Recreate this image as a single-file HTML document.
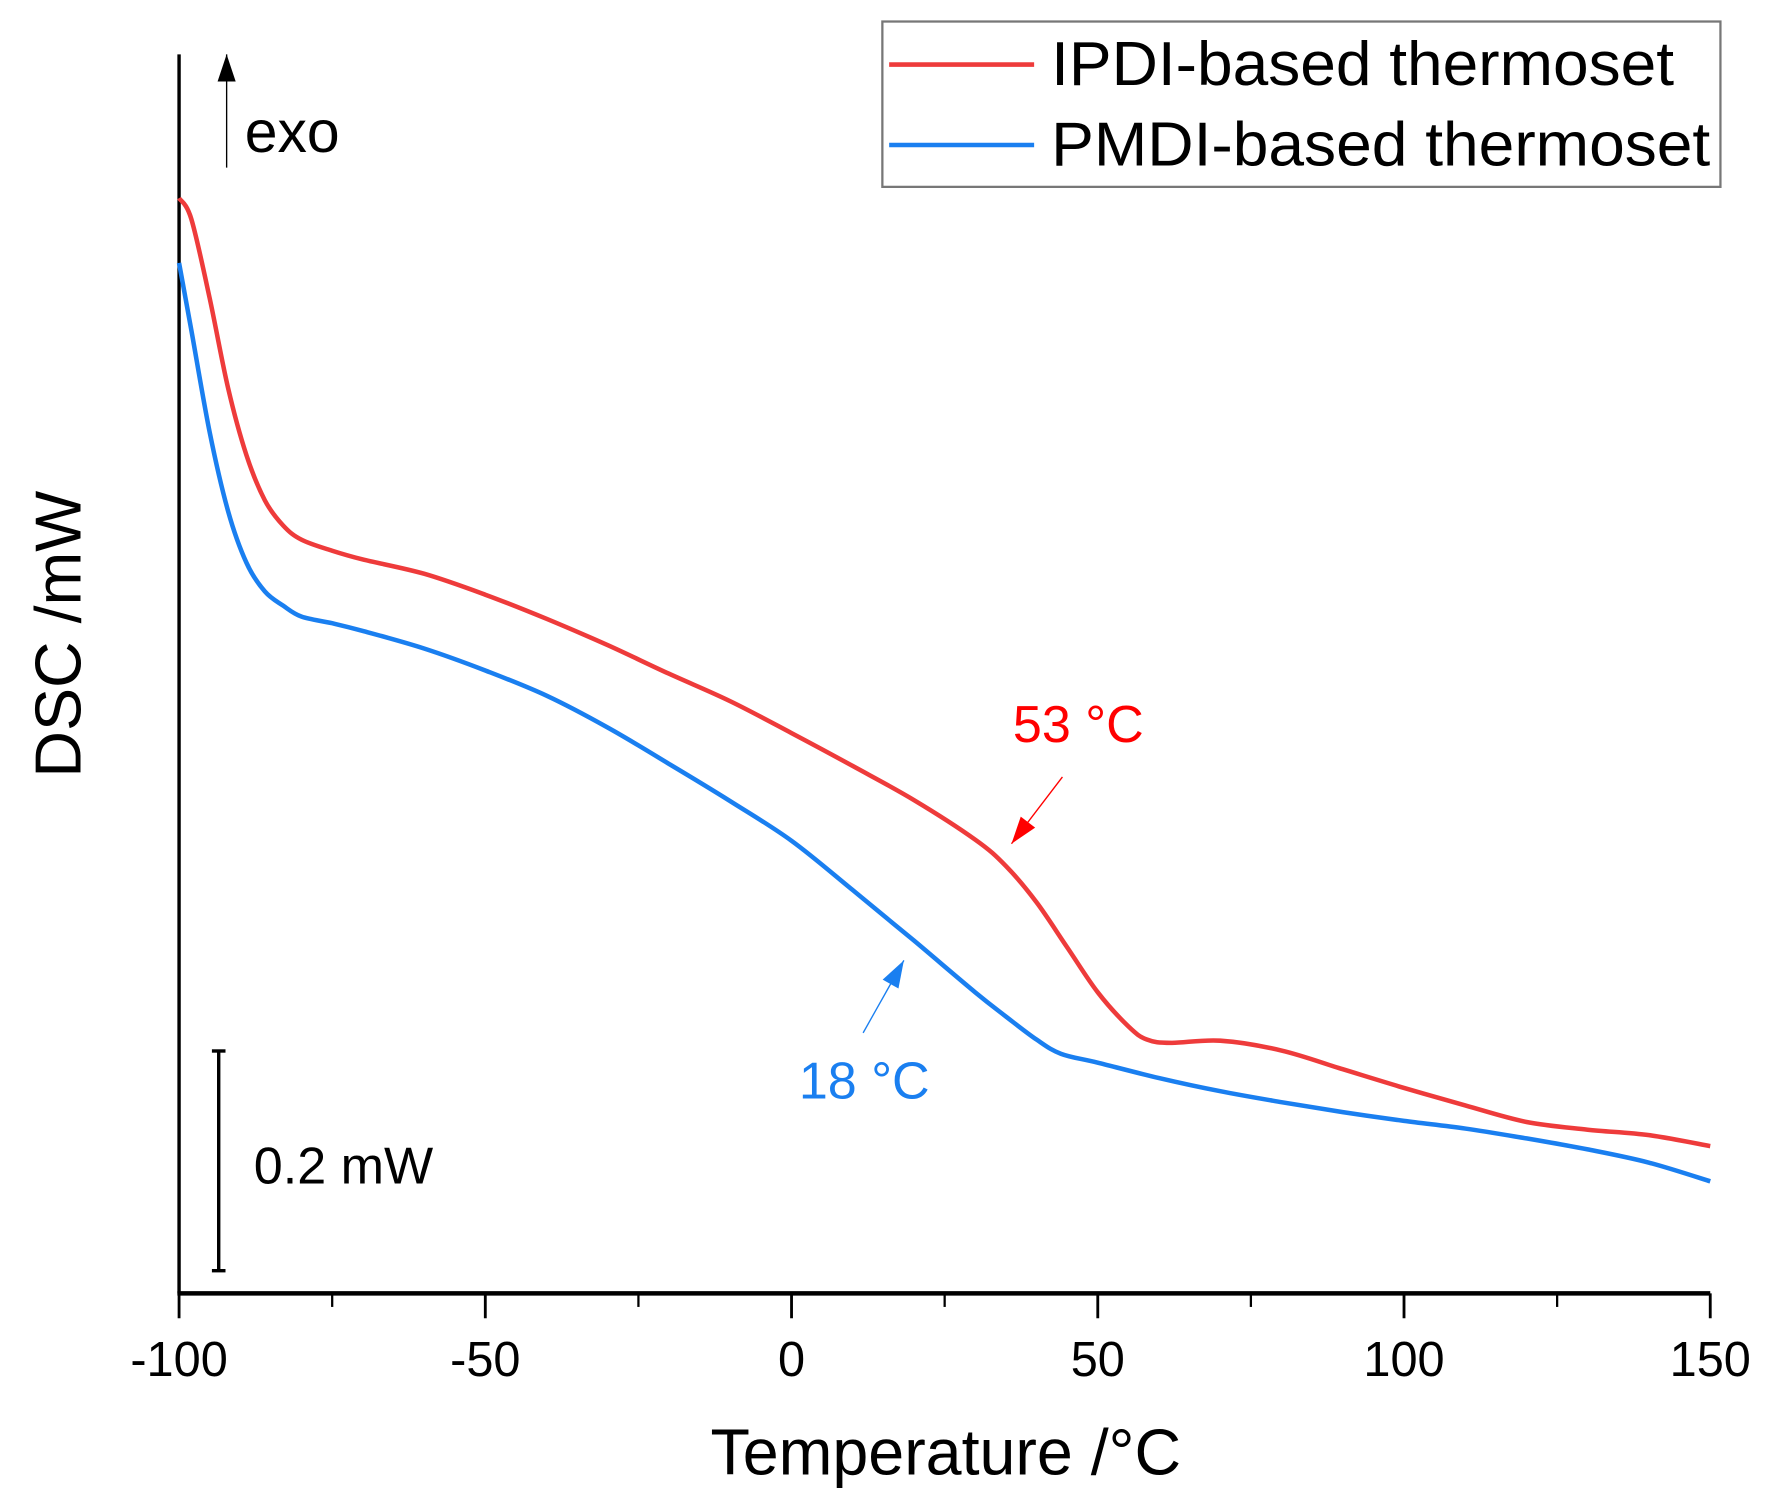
<!DOCTYPE html>
<html><head><meta charset="utf-8"><style>
html,body{margin:0;padding:0;background:#fff;}
svg{display:block;font-family:"Liberation Sans",Arial,sans-serif;}
</style></head><body>
<svg id="chart" width="1767" height="1504" viewBox="0 0 1560 1328" xmlns="http://www.w3.org/2000/svg">
<rect width="1560" height="1328" fill="#fff"/>
<g id="plot"></g>
</svg>
<script>
const tempsRed = [-100,-98,-95,-92,-89,-86,-83,-80,-75,-70,-60,-50,-40,-30,-20,-10,0,10,20,30,35,40,45,50,55,58,62,70,80,90,100,110,120,130,140,150];
const dscRed = [0.997,0.978,0.906,0.824,0.763,0.722,0.699,0.686,0.676,0.668,0.655,0.636,0.614,0.590,0.564,0.539,0.510,0.480,0.449,0.413,0.389,0.356,0.315,0.274,0.243,0.231,0.228,0.230,0.221,0.204,0.187,0.171,0.156,0.149,0.144,0.134];
const tempsBlue = [-100,-98,-95,-92,-89,-86,-83,-80,-75,-70,-60,-50,-40,-30,-20,-10,0,10,20,30,35,40,44,50,60,70,80,90,100,110,120,130,140,150];
const dscBlue = [0.938,0.877,0.784,0.712,0.665,0.639,0.626,0.616,0.610,0.603,0.587,0.567,0.544,0.515,0.482,0.448,0.412,0.367,0.321,0.274,0.252,0.231,0.218,0.210,0.196,0.184,0.174,0.165,0.157,0.150,0.141,0.131,0.119,0.102];
const xTicks = [-100,-50,0,50,100,150];
const xMinor = [-75,-25,25,75,125];
const xTickLabels = ["-100","-50","0","50","100","150"];

const X0=158, X1=1510, YB=1142;
function xs(t){return X0+(t+100)/250*(X1-X0);}
function ys(v){return YB - v*970;}
const NS="http://www.w3.org/2000/svg";
const svg=document.getElementById('plot');
function mk(tag,attrs,parent){const e=document.createElementNS(NS,tag);for(const k in attrs)e.setAttribute(k,attrs[k]);(parent||svg).appendChild(e);return e;}

let ya=mk('line',{x1:X0,y1:48,x2:X0,y2:YB,stroke:'#000','stroke-width':3});


let xa=mk('line',{x1:X0-1.5,y1:YB,x2:X1,y2:YB,stroke:'#000','stroke-width':4});


xTicks.forEach((t,i)=>{
  let tk=mk('line',{x1:xs(t),y1:YB,x2:xs(t),y2:YB+22,stroke:'#000','stroke-width':2.5});
  
  
  let tl=mk('text',{x:xs(t),y:1215,'font-size':43,'text-anchor':'middle',fill:'#000'});
  tl.textContent=xTickLabels[i];
  
  
});
xMinor.forEach(t=>{
  let tk=mk('line',{x1:xs(t),y1:YB,x2:xs(t),y2:YB+12,stroke:'#000','stroke-width':2});
  
  
});
let xt=mk('text',{x:835,y:1302,'font-size':57,'text-anchor':'middle',fill:'#000'});
xt.textContent='Temperature /°C';


let yt=mk('text',{x:0,y:0,'font-size':57,'text-anchor':'middle',fill:'#000',transform:'translate(71,560) rotate(-90)'});
yt.textContent='DSC /mW';



function path(ts,vs){
  const p=ts.map((t,i)=>[xs(t),ys(vs[i])]);
  let d='M'+p[0][0].toFixed(1)+','+p[0][1].toFixed(1);
  for(let i=0;i<p.length-1;i++){
    const a=p[Math.max(0,i-1)],b=p[i],c=p[i+1],e=p[Math.min(p.length-1,i+2)];
    const c1=[b[0]+(c[0]-a[0])/6,b[1]+(c[1]-a[1])/6],c2=[c[0]-(e[0]-b[0])/6,c[1]-(e[1]-b[1])/6];
    d+=` C${c1[0].toFixed(1)},${c1[1].toFixed(1)} ${c2[0].toFixed(1)},${c2[1].toFixed(1)} ${c[0].toFixed(1)},${c[1].toFixed(1)}`;
  }
  return d;
}
let pr=mk('path',{d:path(tempsRed,dscRed),fill:'none',stroke:'#ee3b3b','stroke-width':4,'stroke-linejoin':'round'});


let pb=mk('path',{d:path(tempsBlue,dscBlue),fill:'none',stroke:'#1a7ff0','stroke-width':4,'stroke-linejoin':'round'});



function arrow(x1,y1,x2,y2,col,name){
  const g=mk('g',{});
  
  
  mk('line',{x1:x1,y1:y1,x2:x2,y2:y2,stroke:col,'stroke-width':1.2},g);
  const a=Math.atan2(y2-y1,x2-x1),L=24,W=8;
  const bx=x2-L*Math.cos(a),by=y2-L*Math.sin(a);
  const px=-Math.sin(a)*W,py=Math.cos(a)*W;
  mk('polygon',{points:`${x2},${y2} ${bx+px},${by+py} ${bx-px},${by-py}`,fill:col},g);
}
arrow(938,686,893,745,'#ff0000','red-tg-arrow');
arrow(762,912,798,848,'#1a7ff0','blue-tg-arrow');
arrow(200,148,200,48,'#000','exo-arrow');
let t1=mk('text',{x:952,y:655,'font-size':46,'text-anchor':'middle',fill:'#ff0000'});t1.textContent='53 °C';


let t2=mk('text',{x:763,y:970,'font-size':46,'text-anchor':'middle',fill:'#1a7ff0'});t2.textContent='18 °C';


let ex=mk('text',{x:216,y:134,'font-size':52,fill:'#000'});ex.textContent='exo';



const sb=mk('g',{});


mk('line',{x1:193,y1:928,x2:193,y2:1122,stroke:'#000','stroke-width':3},sb);
mk('line',{x1:187,y1:928,x2:199,y2:928,stroke:'#000','stroke-width':3},sb);
mk('line',{x1:187,y1:1122,x2:199,y2:1122,stroke:'#000','stroke-width':3},sb);
let sl=mk('text',{x:224,y:1045,'font-size':46,fill:'#000'});sl.textContent='0.2 mW';



const lg=mk('g',{});


mk('rect',{x:779,y:19,width:740,height:146,fill:'#fff',stroke:'#777','stroke-width':2},lg);
mk('line',{x1:785,y1:57,x2:913,y2:57,stroke:'#ee3b3b','stroke-width':4},lg);
mk('line',{x1:785,y1:128,x2:913,y2:128,stroke:'#1a7ff0','stroke-width':4},lg);
let l1=mk('text',{x:928,y:75,'font-size':55,fill:'#000',textLength:550,lengthAdjust:'spacingAndGlyphs'},lg);l1.textContent='IPDI-based thermoset';


let l2=mk('text',{x:928,y:146,'font-size':55,fill:'#000',textLength:582,lengthAdjust:'spacingAndGlyphs'},lg);l2.textContent='PMDI-based thermoset';


</script>
</body></html>
